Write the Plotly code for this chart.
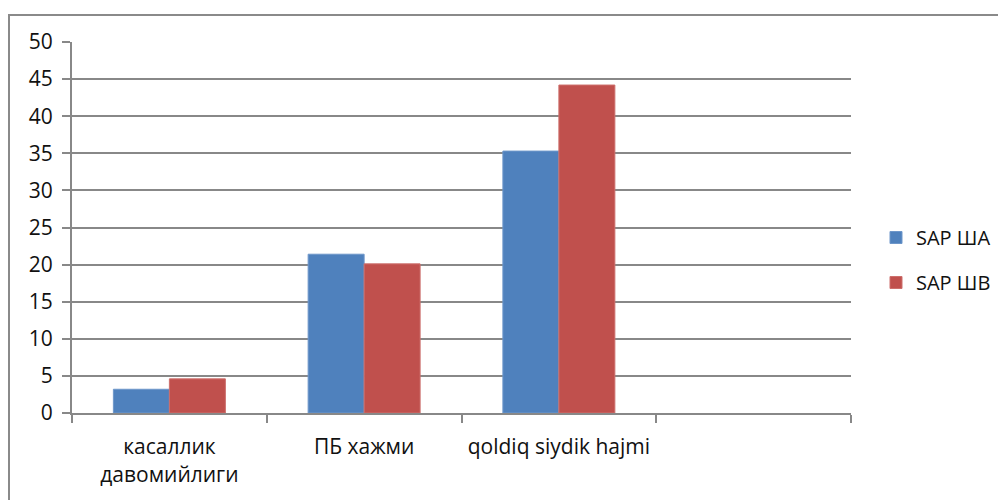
import plotly.graph_objects as go

categories = ["касаллик<br>давомийлиги", "ПБ хажми", "qoldiq siydik hajmi", " "]
series_names = ["SAP ША", "SAP ШВ"]
sap_sha = [3.2, 21.4, 35.3, None]
sap_shv = [4.6, 20.1, 44.2, None]
y_ticks = [0, 5, 10, 15, 20, 25, 30, 35, 40, 45, 50]

colors = ["#4F81BD", "#C0504D"]
outlines = ["#6E97CA", "#CD6F6C"]
grid = "#888888"
family = "Open Sans, Liberation Sans, sans-serif"
txt = "#111111"
font = dict(family=family, size=20, color=txt)
xfont = dict(family=family, size=21, color=txt)
yfont = dict(family=family, size=21, color=txt)

# page body has an 8px default margin; plot area target (in page px): x 72..851, y 42..413
L, R, T, B = 64, 843, 34, 405
W, H = R - L, B - T

fig = go.Figure()
for i, (name, vals) in enumerate(zip(series_names, [sap_sha, sap_shv])):
    fig.add_trace(go.Bar(
        x=categories, y=vals, name=name,
        marker=dict(color=colors[i], line=dict(color=outlines[i], width=1)),
        legendgroup=f"g{i}",
    ))

fig.update_layout(
    width=1006, height=500,
    margin=dict(l=L, r=1006 - R, t=T, b=500 - B),
    paper_bgcolor="white", plot_bgcolor="white",
    font=font,
    barmode="group", bargap=0.425, bargroupgap=0,
    showlegend=True,
    legend=dict(x=(868 - L) / W, y=(B - 252) / H, xanchor="left", yanchor="middle",
                tracegroupgap=16, font=font, bgcolor="rgba(0,0,0,0)"),
    xaxis=dict(
        type="category", categoryorder="array", categoryarray=categories,
        range=[-0.5, 3.5], tickson="boundaries", ticks="outside", ticklen=8,
        tickcolor=grid, tickwidth=2, showline=True, linecolor=grid, linewidth=2,
        showgrid=False, fixedrange=True, tickfont=xfont, ticklabelstandoff=14,
    ),
    yaxis=dict(
        range=[0, 50], tickvals=y_ticks, ticks="outside", ticklen=8,
        tickcolor=grid, tickwidth=2, showline=True, linecolor=grid, linewidth=2,
        showgrid=True, gridcolor=grid, gridwidth=2, zeroline=False,
        tickfont=yfont, ticklabelstandoff=5,
    ),
)

# outer chart border
fig.add_shape(type="rect", xref="paper", yref="paper",
              x0=(1 - L) / W, x1=(1012 - L) / W,
              y0=(B - 506) / H, y1=(B - 7) / H,
              line=dict(color="#8A8A8A", width=2), fillcolor="rgba(0,0,0,0)", layer="below")

fig.write_html("out.html")
